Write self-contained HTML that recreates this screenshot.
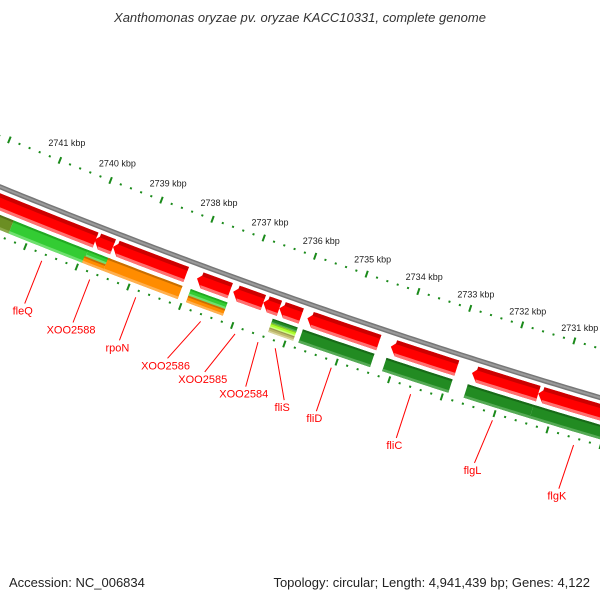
<!DOCTYPE html>
<html><head><meta charset="utf-8"><style>
body{margin:0;background:#fff;}
svg{display:block;font-family:"Liberation Sans","DejaVu Sans",sans-serif;}
</style></head><body>
<svg id="map" width="600" height="600" viewBox="0 0 600 600" xmlns="http://www.w3.org/2000/svg">
<rect width="600" height="600" fill="#fff"/>
<text x="300" y="22" text-anchor="middle" font-size="13" font-style="italic" fill="#333">Xanthomonas oryzae pv. oryzae KACC10331, complete genome</text>
<g id="ticks"></g>
<g id="backbone"></g>
<g id="feats"></g>
<g id="labels"></g>
<text x="9" y="587" font-size="13" fill="#222">Accession: NC_006834</text>
<text x="590" y="587" text-anchor="end" font-size="13" fill="#222">Topology: circular; Length: 4,941,439 bp; Genes: 4,122</text>
</svg>
<script>
// data (kbp)
const tickLabels = [2741,2740,2739,2738,2737,2736,2735,2734,2733,2732,2731];
const redStarts = [2741.6,2738.88,2738.52,2736.89,2736.19,2735.61,2735.30,2734.76,2733.16,2731.61,2730.35];
const redEnds   = [2738.86,2738.52,2737.10,2736.25,2735.61,2735.30,2734.88,2733.39,2731.90,2730.35,2728.3];
const laneStarts = [2741.5,2740.37,2738.92,2738.94,2738.53,2736.93,2736.93,2735.35,2735.35,2735.35,2734.77,2733.17,2731.62,2730.37];
const laneEnds   = [2740.37,2738.92,2738.48,2738.53,2737.09,2736.22,2736.22,2734.87,2734.87,2734.87,2733.40,2731.91,2730.37,2728.2];
const laneSub    = ['full','full','top','bot','full','top','bot','t1','t2','t3','full','full','full','full'];
const laneColor  = ['olive','lime','lime','orange','orange','lime','orange','dkgreen','yellow','tan','dkgreen','dkgreen','dkgreen','dkgreen'];
const labelNames  = ['fleQ','XOO2588','rpoN','XOO2586','XOO2585','XOO2584','fliS','fliD','fliC','flgL','flgK'];
const labelAnchor = [2739.63,2738.70,2737.81,2736.56,2735.90,2735.46,2735.13,2734.06,2732.55,2731.0,2729.47];
const labelPos    = [2739.63,2738.70,2737.81,2736.89,2736.18,2735.40,2734.67,2734.06,2732.55,2731.08,2729.5];

const NS='http://www.w3.org/2000/svg';
const CX=2368, CY=-5594;
const R_TICK=6200, R_BB=6247, R_RED=6261, H_RED=16, R_LANE=6280, H_LANE=14, R_IN=6293;
function ang(bp){return (107.32+(bp-2731)*0.504)*Math.PI/180;}
function pt(bp,r){const a=ang(bp);return [CX+r*Math.cos(a),CY+r*Math.sin(a)];}
function mk(tag,attrs,parent){const e=document.createElementNS(NS,tag);for(const k in attrs)e.setAttribute(k,attrs[k]);parent.appendChild(e);return e;}
function arcPts(b1,b2,r){const n=Math.max(2,Math.ceil(Math.abs(b1-b2)*10));const p=[];for(let i=0;i<=n;i++){p.push(pt(b1+(b2-b1)*i/n,r));}return p;}
function bandPoly(b1,b2,r1,r2){return arcPts(b1,b2,r1).concat(arcPts(b2,b1,r2));}
function ps(p){return p.map(q=>q[0].toFixed(2)+','+q[1].toFixed(2)).join(' ');}

// ticks
const tg=document.getElementById('ticks');
for(let bp=2742.4;bp>=2728;bp-=0.2){
  const v=Math.round(bp*5)/5;
  const major=Math.abs(v-Math.round(v))<0.01;
  [R_TICK,R_IN].forEach((r,ri)=>{
    const a=pt(v,major?r-3.5:r-1),b=pt(v,major?r+3.5:r+1);
    const l=mk('line',{x1:a[0],y1:a[1],x2:b[0],y2:b[1],stroke:'#1a8a1a','stroke-width':2},tg);
    
    
  });
}
tickLabels.forEach(v=>{
  const p=pt(v,R_TICK);
  const t=mk('text',{x:p[0]+39,y:p[1]+6,'font-size':9,fill:'#222'},tg);
  t.textContent=v+' kbp';
  
  
});

// backbone
const bb=document.getElementById('backbone');
const bbp=arcPts(2742.5,2728,R_BB);
const bl1=mk('polyline',{points:ps(bbp),fill:'none',stroke:'#777','stroke-width':5},bb);


const bl2=mk('polyline',{points:ps(bbp),fill:'none',stroke:'#9a9a9a','stroke-width':2},bb);



// features
const fg=document.getElementById('feats');
const tipBp=0.12;
redStarts.forEach((s,i)=>{
  const e=redEnds[i];
  const r1=R_RED-H_RED/2,r2=R_RED+H_RED/2,rm=R_RED;
  const poly=arcPts(s-tipBp,e,r1).concat(arcPts(e,s-tipBp,r2)).concat([pt(s,rm)]);
  const g=mk('polygon',{points:ps(poly),fill:'#ff0000'},fg);
  
  
  const top=mk('polygon',{points:ps(arcPts(s-tipBp*0.6,e,r1).concat(arcPts(e,s-tipBp*0.6,r1+4))),fill:'#cc0000'},fg);
  
  
  const bot=mk('polygon',{points:ps(arcPts(s-tipBp*0.8,e,r2-3).concat(arcPts(e,s-tipBp,r2))),fill:'#ff7070'},fg);
  
  
});
const colors={olive:['#6b8e23','#557019','#8aa84a'],lime:['#33cc33','#22a822','#6fe06f'],orange:['#ff8c00','#c86e00','#ffb050'],dkgreen:['#228b22','#186a18','#55aa55'],yellow:['#adff2f','#8acc20','#d0ff80'],tan:['#bdb76b','#999450','#d8d49a']};
laneStarts.forEach((s,i)=>{
  const e=laneEnds[i];
  let r1=R_LANE-H_LANE/2,r2=R_LANE+H_LANE/2;
  const sub=laneSub[i];
  if(sub==='top')r2=R_LANE;
  if(sub==='bot')r1=R_LANE;
  if(sub==='t1')r2=r1+H_LANE/3;
  if(sub==='t2'){r1=r1+H_LANE/3;r2=r1+H_LANE/3;}
  if(sub==='t3')r1=r2-H_LANE/3;
  const c=colors[laneColor[i]];
  const g=mk('polygon',{points:ps(bandPoly(s,e,r1,r2)),fill:c[0]},fg);
  
  
  const h=Math.min(2,(r2-r1)/4);
  const top=mk('polygon',{points:ps(bandPoly(s,e,r1,r1+h)),fill:c[1]},fg);
  
  
  const bot=mk('polygon',{points:ps(bandPoly(s,e,r2-h*1.3,r2)),fill:c[2]},fg);
  
  
});

// labels
const lg=document.getElementById('labels');
labelNames.forEach((n,i)=>{
  const a=pt(labelAnchor[i],6300),b=pt(labelPos[i],6346);
  const l=mk('line',{x1:a[0],y1:a[1],x2:b[0],y2:b[1],stroke:'#ff0000','stroke-width':1},lg);
  
  
  const t=mk('text',{x:b[0]-2,y:b[1]+11,'font-size':11,fill:'#ff0000','text-anchor':'middle'},lg);
  t.textContent=n;
  
  
});
</script>
</body></html>
